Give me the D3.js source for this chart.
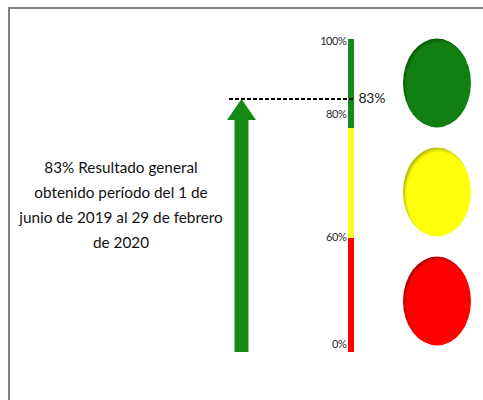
<!DOCTYPE html>
<html>
<head>
<meta charset="utf-8">
<script src="https://cdn.jsdelivr.net/npm/d3@7"></script>
<style>
  html, body { margin: 0; padding: 0; background: #fff; }
  svg { display: block; font-family: Lato, "Open Sans", sans-serif; }
</style>
</head>
<body>
<div id="chart"></div>
<script>
// data
var result = 83;
var segStart = [0, 60, 80];
var segEnd = [60, 80, 100];
var segColors = ["#ff0000", "#ffff22", "#168a16"];
var tickValues = [100, 80, 60, 0];
var tickLabels = ["100%", "80%", "60%", "0%"];
var lights = ["verde", "amarillo", "rojo"];
var lightColors = ["#117f11", "#ffff0a", "#ff0000"];
var lightEdges = ["#0a5c0a", "#b8b800", "#b00000"];
var caption = [
  "83% Resultado general",
  "obtenido período del 1 de",
  "junio de 2019 al 29 de febrero",
  "de 2020"
];

var width = 483, height = 400;

var svg = d3.select("#chart")
  .append("svg")
    .attr("width", width)
    .attr("height", height);

// frame
svg.append("rect")
  .attr("x", 9).attr("y", 8)
  .attr("width", width).attr("height", height)
  .attr("fill", "none")
  .attr("stroke", "#808080")
  .attr("stroke-width", 2);

// scale of the bar (segments drawn with equal-ish heights like the original)
var y = d3.scaleLinear()
  .domain([0, 60, 80, 83, 100])
  .range([352, 238, 128, 99, 39]);

var barX = 348, barW = 6;

// stacked bar
svg.selectAll(".seg")
  .data(segStart)
  .enter()
  .append("rect")
    .attr("class", "seg")
    .attr("x", barX)
    .attr("y", function(d, i) { return y(segEnd[i]); })
    .attr("width", barW)
    .attr("height", function(d, i) { return y(segStart[i]) - y(segEnd[i]); })
    .attr("fill", function(d, i) { return segColors[i]; });

// tick labels
var nudge = {100: 6, 80: -10, 60: 2.5, 0: -4.5};
svg.selectAll(".tick")
  .data(tickValues)
  .enter()
  .append("text")
    .attr("class", "tick")
    .attr("x", barX - 1.5)
    .attr("y", function(d) { return y(d) + nudge[d]; })
    .attr("text-anchor", "end")
    .style("font-size", "11px")
    .style("letter-spacing", "-0.4px")
    .attr("fill", "#2a2a2a")
    .text(function(d, i) { return tickLabels[i]; });

// arrow
var ax = 241.5, shaftW = 14, headW = 29, headH = 21;
var tip = y(result);
svg.append("path")
  .attr("d", d3.line()([
    [ax - shaftW / 2, y(0)],
    [ax - shaftW / 2, tip + headH],
    [ax - headW / 2, tip + headH],
    [ax, tip],
    [ax + headW / 2, tip + headH],
    [ax + shaftW / 2, tip + headH],
    [ax + shaftW / 2, y(0)]
  ]) + "Z")
  .attr("fill", "#168a16");

// dashed result line
svg.append("line")
  .attr("x1", 229).attr("x2", barX + barW)
  .attr("y1", y(result)).attr("y2", y(result))
  .attr("stroke", "#000")
  .attr("stroke-width", 2.2)
  .attr("stroke-dasharray", "4,2");

svg.append("text")
  .attr("x", 358.5)
  .attr("y", y(result) + 4)
  .style("font-size", "14px")
  .style("letter-spacing", "-0.3px")
  .attr("fill", "#1a1a1a")
  .text(result + "%");

// caption
svg.append("text")
  .attr("x", 121)
  .attr("text-anchor", "middle")
  .style("font-size", "15.3px")
  .attr("fill", "#111")
  .selectAll("tspan")
  .data(caption)
  .enter()
  .append("tspan")
    .attr("x", 121)
    .attr("y", function(d, i) { return 173 + i * 25; })
    .text(function(d) { return d; });

// traffic lights
var ly = d3.scalePoint()
  .domain(lights)
  .range([83, 301]);

var defs = svg.append("defs");
lights.forEach(function(l, i) {
  var g = defs.append("radialGradient")
    .attr("id", "g-" + l)
    .attr("cx", "53%").attr("cy", "53%").attr("r", "53%");
  g.append("stop").attr("offset", "0%").attr("stop-color", lightColors[i]);
  g.append("stop").attr("offset", "90%").attr("stop-color", lightColors[i]);
  g.append("stop").attr("offset", "100%").attr("stop-color", lightEdges[i]);
});

svg.selectAll(".light")
  .data(lights)
  .enter()
  .append("ellipse")
    .attr("class", "light")
    .attr("cx", 437)
    .attr("cy", function(d) { return ly(d); })
    .attr("rx", 34)
    .attr("ry", 44.5)
    .attr("fill", function(d) { return "url(#g-" + d + ")"; });
</script>
</body>
</html>
